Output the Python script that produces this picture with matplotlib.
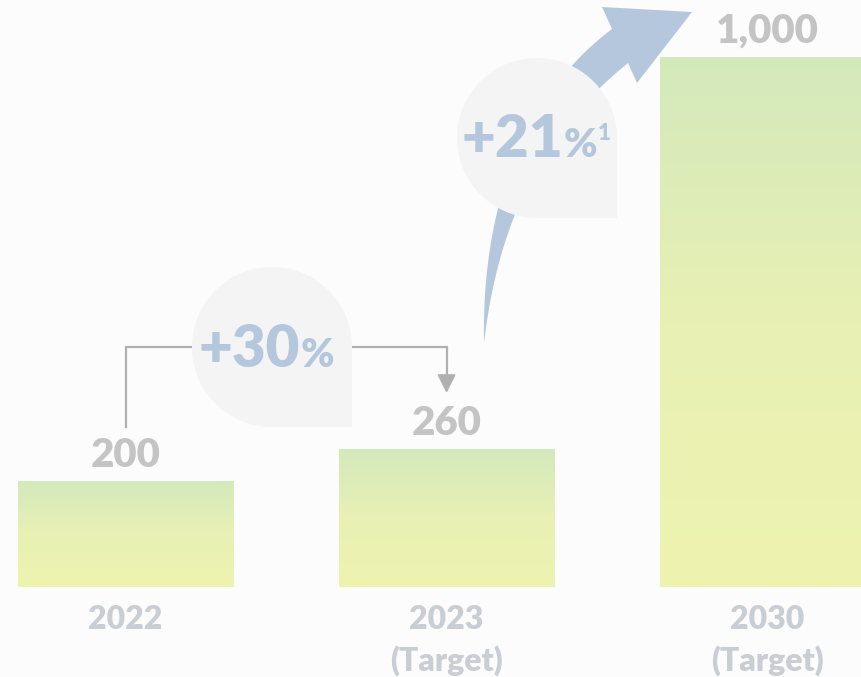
import numpy as np
import matplotlib.pyplot as plt
from matplotlib.colors import LinearSegmentedColormap
from matplotlib.patches import Polygon
from matplotlib.transforms import Affine2D

# data
years = ['2022', '2023', '2030']
sublabels = ['', '(Target)', '(Target)']
values = [200, 260, 1000]
value_labels = ['200', '260', '1,000']
growth_1 = '+30'
growth_2 = '+21'

W, H = 861, 677
BG = '#fcfcfd'
GRAY_TXT = '#c4c4c4'
CAT_TXT = '#c9cdd4'
BLUE = '#b4c7dc'
BUBBLE = '#f4f4f4'
FONT = 'Lato'
WEIGHT = 'heavy'

fig = plt.figure(figsize=(W / 100, H / 100), dpi=100, facecolor=BG)
ax = fig.add_axes([0, 0, 1, 1])
ax.set_facecolor(BG)
ax.set_xlim(-0.391, 2.291)
ax.set_ylim(-169.8, 1107.5)
ax.axis('off')

# pixel coordinates measured from the top-left corner
px = Affine2D().scale(1 / W, -1 / H).translate(0, 1) + fig.transFigure

# gradient bars: green at the top fading to pale yellow at the bottom
cmap = LinearSegmentedColormap.from_list('bar', ['#eef4af', '#e8f0b4', '#d4e9bb'])
grad = np.linspace(0, 1, 256).reshape(-1, 1)
bar_w = 0.67
bars = ax.bar(range(len(values)), values, width=bar_w, color='none', zorder=1)
for b in bars:
    x0, y0 = b.get_x(), b.get_y()
    im = ax.imshow(grad, extent=[x0, x0 + b.get_width(), y0, y0 + b.get_height()],
                   origin='lower', cmap=cmap, aspect='auto', zorder=1)
    im.set_clip_path(b)

# value labels above the bars and category labels below
for i, (v, lab) in enumerate(zip(values, value_labels)):
    ax.annotate(lab, (i, v), xytext=(0, 14), textcoords='offset pixels',
                ha='center', va='baseline', fontsize=29, fontweight=WEIGHT,
                color=GRAY_TXT, family=FONT, zorder=5)
    ax.annotate(years[i], (i, 0), xytext=(0, -42), textcoords='offset pixels',
                ha='center', va='baseline', fontsize=23, fontweight=WEIGHT,
                color=CAT_TXT, family=FONT, zorder=5)
    if sublabels[i]:
        ax.annotate(sublabels[i], (i, 0), xytext=(0, -84), textcoords='offset pixels',
                    ha='center', va='baseline', fontsize=23, fontweight=WEIGHT,
                    color=CAT_TXT, family=FONT, zorder=5)

# bracket from 2022 to 2023
ax.plot([0, 0, 1, 1], [302, 453, 453, 390], color='#b0b0b0', lw=1.6,
        solid_joinstyle='miter', zorder=2)
ax.annotate('', xy=(1, 366), xytext=(1, 395),
            arrowprops=dict(arrowstyle='-|>,head_width=0.55,head_length=1.1',
                            color='#b0b0b0', lw=1.6, shrinkA=0, shrinkB=0), zorder=2)


def bubble(cx, cy, r, z):
    # circle with a squared-off lower right corner
    t = np.linspace(0, 1.5 * np.pi, 120)
    pts = np.column_stack([cx + r * np.cos(t), cy - r * np.sin(t)])
    pts = np.vstack([pts, [cx + r, cy + r]])
    ax.add_patch(Polygon(pts, closed=True, facecolor=BUBBLE, edgecolor='none',
                         transform=px, zorder=z))


def bez(p0, p1, p2, p3, n=80):
    t = np.linspace(0, 1, n)[:, None]
    p0, p1, p2, p3 = map(np.array, (p0, p1, p2, p3))
    return (1 - t) ** 3 * p0 + 3 * (1 - t) ** 2 * t * p1 + 3 * (1 - t) * t ** 2 * p2 + t ** 3 * p3


# curved growth arrow towards 2030
upper = bez((484, 343), (482, 240), (505, 110), (612, 29))
lower = bez((484, 343), (494, 260), (520, 150), (628, 63))
head = np.array([[602, 7], [692, 12], [637, 83]])
shape = np.vstack([upper, head, lower[::-1]])
ax.add_patch(Polygon(shape, closed=True, facecolor=BLUE, edgecolor='none',
                     transform=px, zorder=3))

bubble(272, 347, 80, 3)
bubble(537, 138, 80, 4)

# growth rates inside the bubbles
kw = dict(transform=px, fontweight=WEIGHT, color=BLUE, family=FONT, va='baseline', zorder=6)
ax.text(300, 367, growth_1, ha='right', fontsize=42, **kw)
ax.text(301, 367, '%', ha='left', fontsize=29, **kw)
ax.text(563, 157, growth_2, ha='right', fontsize=42, **kw)
ax.text(564, 157, '%', ha='left', fontsize=29, **kw)
ax.text(598, 140, '1', ha='left', fontsize=16, **kw)

fig.savefig('out.png', dpi=100, facecolor=BG)
